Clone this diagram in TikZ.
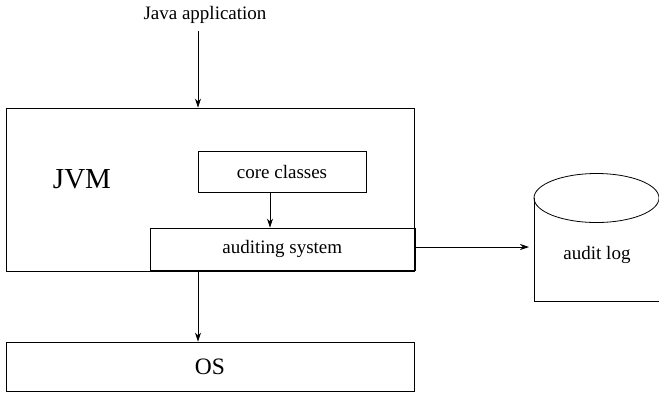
\documentclass[tikz,border=0pt]{standalone}
\usepackage{fontspec}
\setmainfont{Liberation Serif}
\usetikzlibrary{arrows.meta}
\begin{document}
\begin{tikzpicture}[x=1pt,y=-1pt,
  box/.style={draw,line width=0.9pt,inner sep=0pt},
  lbl/.style={font=\fontsize{19}{22}\selectfont},
  conn/.style={draw,line width=0.8pt,-{Stealth[length=9pt,width=6pt]}}]
\useasboundingbox (0,0) rectangle (659,392);
\clip (0,0) rectangle (659,392);
% JVM box
\node[box,minimum width=408pt,minimum height=163pt] (jvm) at (210,189.5) {};
\node[font=\fontsize{29}{34}\selectfont] (jvmtxt) at (82,179) {JVM};
\node[box,lbl,minimum width=168pt,minimum height=41pt] (core) at (282,171.5) {core classes};
\node[box,fill=white,lbl,minimum width=264.5pt,minimum height=42pt] (audit) at (282.25,249) {auditing system};
\draw[line width=1.4pt] (audit.north east) -- (audit.south east) -- (audit.south west);
\node[box,font=\fontsize{23.5}{28}\selectfont,minimum width=408pt,minimum height=49pt] (os) at (210,366.5) {OS};
\node[lbl] (app) at (205,15) {Java application};
% cylinder
\draw[line width=0.8pt] (534,198) -- (534,301) -- (680,301);
\draw[line width=0.8pt] (596.5,198) ellipse [x radius=62.5pt, y radius=24.5pt];
\node[lbl] (log) at (597,255) {audit log};
\coordinate (login) at (529,247);
\coordinate (appout) at (198,31);
\coordinate (cx) at (270,0);
\coordinate (ox) at (198,0);
% connectors
\draw[conn] (appout) -- (appout |- jvm.north);
\draw[conn] (cx |- core.south) -- (cx |- audit.north);
\draw[conn] (ox |- audit.south) -- (ox |- os.north);
\draw[conn] (audit.east |- login) -- (login);
\end{tikzpicture}
\end{document}
